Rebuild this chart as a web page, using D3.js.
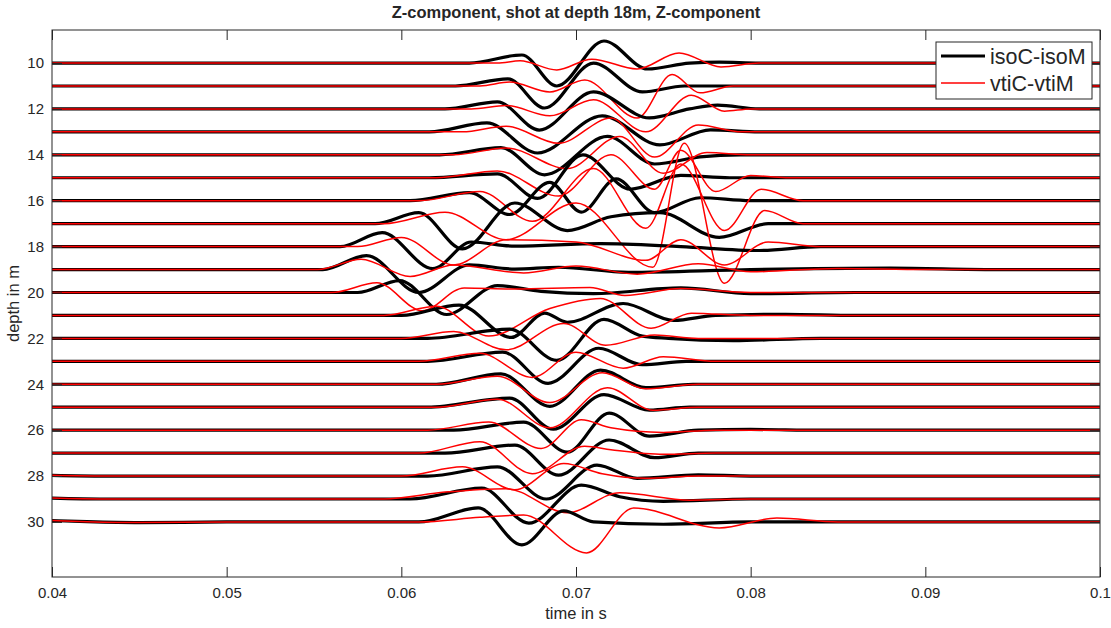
<!DOCTYPE html>
<html>
<head>
<meta charset="utf-8">
<script src="https://cdn.jsdelivr.net/npm/d3@7"></script>
<style>
  body { margin: 0; background: #fff; }
  text { font-family: "Liberation Sans", Arial, sans-serif; fill: #262626; }
</style>
</head>
<body>
<svg id="chart" width="1111" height="628"></svg>
<script>
// depths of the receivers (m) and axis ticks
var depths = [10, 11, 12, 13, 14, 15, 16, 17, 18, 19, 20, 21, 22, 23, 24, 25, 26, 27, 28, 29, 30];
var timeTicks = [0.04, 0.05, 0.06, 0.07, 0.08, 0.09, 0.1];
var depthTicks = [10, 12, 14, 16, 18, 20, 22, 24, 26, 28, 30];
var seriesNames = ["isoC-isoM", "vtiC-vtiM"];

// trace keypoints: [time in ms, amplitude in m (up = positive)]
var iso10 = [[63.9,0],[66.9,.35],[68.9,-1.0],[71.6,.96],[74.1,-.26],[76.5,0],[78.2,.04],[80.5,0]];
var iso11 = [[63.1,0],[66.1,.31],[68.2,-.96],[71.0,1.0],[73.8,-.26],[76.2,0]];
var iso12 = [[62.5,0],[65.5,.31],[67.9,-.92],[71.0,.74],[74.2,-.39],[76.5,0],[78.1,.17],[80.5,0]];
var iso13 = [[61.6,0],[64.9,.39],[67.8,-.92],[71.5,.7],[74.8,-.57],[77.7,.09],[80.5,0]];
var iso14 = [[62.2,0],[65.7,.31],[68.2,-.87],[71.8,.8],[74.5,-.4],[77.1,-.09],[79.4,0]];
var iso15 = [[61.6,0],[65.5,.17],[67.8,-.9],[70.4,1.0],[73.1,-.5],[76.0,.1],[78.8,0]];
var iso16 = [[60.5,0],[63.9,.35],[66.2,-.6],[68.5,.8],[70.3,-.5],[72.3,.95],[74.5,-.52],[77.1,.13],[80,0]];
var iso17 = [[58.5,0],[61.0,.48],[63.5,-1.1],[66.5,.9],[69.5,-.3],[72,.3],[74.8,.48],[78.2,-.6],[81,0]];
var iso18 = [[56.5,0],[58.9,.61],[61.8,-.96],[64.0,.2],[66.5,.02],[71.4,.13],[76,0],[80.5,-.17],[84,0]];
var iso19 = [[55.5,0],[58.0,.61],[61.0,-1.0],[63.9,.2],[66.5,.02],[69,.1],[73,-.12],[80,0],[88,.06],[94,0]];
var iso20 = [[57.5,0],[59.9,.52],[62.6,-.96],[65.5,.3],[68,.05],[71,-.05],[76,.2],[80,-.05],[86,0]];
var iso21 = [[60,0],[63.3,.45],[66.3,-.96],[68.2,.1],[69.5,-.3],[72.7,.52],[75.6,-.22],[78,0],[82,.05],[86,0]];
var iso22 = [[61.5,0],[66.2,.4],[68.9,-.96],[71.6,.83],[73.8,.1],[75.3,0],[79,-.1],[84,0]];
var iso23 = [[61.5,0],[65.8,.4],[68.4,-.96],[71.3,.57],[73.8,-.15],[76.3,0]];
var iso24 = [[62,0],[65.7,.45],[68.5,-.96],[71.4,.62],[74,-.15],[76.7,0]];
var iso25 = [[61.5,0],[66.2,.4],[68.7,-.96],[71.6,.55],[74.2,-.13],[76.5,0]];
var iso26 = [[63,0],[67.0,.35],[69.5,-.96],[71.9,.74],[74.2,-.26],[77,0],[80,.03],[84,0]];
var iso27 = [[62.5,0],[66.5,.35],[69.0,-.96],[71.9,.57],[74.5,-.2],[77,0]];
var iso28 = [[40,.03],[43,0],[61.5,0],[65.5,.4],[68.3,-1.0],[71.2,.48],[73.5,-.1],[77,.05],[80,0]];
var iso29 = [[40,.04],[43,0],[60.5,0],[64.6,.48],[67.3,-1.05],[70.3,.6],[72.5,.1],[75,-.1],[80,0]];
var iso30 = [[40,.06],[42,.01],[45,-.03],[50,0],[61,0],[64.4,.61],[66.9,-1.0],[69.3,.48],[71,0],[75,-.1],[80,0]];

var vti10 = [[65.5,0],[66.8,.1],[68.9,-.3],[70.9,.17],[73.5,-.26],[75.9,.44],[78.3,-.17],[80.5,0]];
var vti11 = [[64.5,0],[66.2,.17],[68.5,-.26],[70.5,.26],[73.5,-1.4],[75.5,.5],[77.1,-.3],[79,0]];
var vti12 = [[64,0],[66,.15],[68.5,-.3],[71,.4],[74,-1.0],[76.6,.6],[78.5,-.1],[80,0]];
var vti13 = [[63.5,0],[66,.25],[69,-.5],[72,.6],[74.5,-1.1],[77,.3],[79.5,0]];
var vti14 = [[63,0],[66,.3],[69.5,-.6],[72.5,.8],[75,-.8],[77.5,.1],[80,0]];
var vti15 = [[62,0],[65.5,.3],[69,-.8],[72,1.0],[74.5,-.5],[76,1.2],[78,-.6],[80,.1],[82,0]];
var vti16 = [[61,0],[64.5,.4],[67.5,-.9],[71,1.4],[74,-1.2],[76,1.6],[78.5,-1.3],[80.6,.5],[83,0]];
var vti17 = [[59,0],[62.5,.5],[66,-.7],[70,.9],[74.4,-1.9],[76.2,3.5],[78.5,-2.6],[80.8,.57],[83,0]];
var vti18 = [[57.5,0],[60,.4],[63,-.8],[66,.3],[70,.2],[74,-.6],[76,.3],[78.5,-.8],[81,.2],[84,0]];
var vti19 = [[55.2,0],[57.7,.45],[60.5,-.3],[63,.2],[67,-.15],[70,.15],[73.5,-.2],[77,.25],[80,-.1],[85,.05],[90,0]];
var vti20 = [[56,0],[58.6,.42],[61.2,-.8],[63.6,.2],[66.5,.15],[70.8,.22],[72.8,-.13],[76,.17],[80,0]];
var vti21 = [[59,0],[62,.4],[65,-.9],[68.5,.3],[71.4,.74],[74.3,-.56],[76.6,.1],[80,0]];
var vti22 = [[60,0],[63,.3],[66,-.5],[69.3,.65],[71.7,-.3],[74.5,.15],[77,0]];
var vti23 = [[61,0],[64.5,.35],[67.5,-.7],[70,.4],[72.7,-.3],[75,.2],[78,0]];
var vti24 = [[62,0],[65.5,.35],[68.5,-.8],[71.5,.5],[74,-.2],[77,0]];
var vti25 = [[62,0],[65.5,.35],[68.5,-.9],[71.8,.85],[74.4,-.13],[77,0]];
var vti26 = [[61.5,0],[65,.35],[68,-.8],[70.3,.45],[72,.1],[75,-.1],[78,0]];
var vti27 = [[61,0],[64.5,.5],[67.5,-.9],[70.5,.3],[72,.15],[75,-.05],[78,0]];
var vti28 = [[40,.03],[43,0],[60,0],[63.5,.4],[66.5,-.6],[69.3,.55],[71.5,.1],[74,-.1],[77,0]];
var vti29 = [[40,.04],[43,0],[59,0],[62.5,.3],[66,.45],[69.5,-.6],[72.5,.27],[76.5,-.05],[80,0]];
var vti30 = [[40,.06],[42,.01],[45,-.03],[50,0],[61,0],[64.5,.2],[67,.3],[70.6,-1.35],[73.3,.61],[78.2,-.26],[81.5,.17],[85,0]];

var isoTraces = [iso10, iso11, iso12, iso13, iso14, iso15, iso16, iso17, iso18, iso19, iso20,
                 iso21, iso22, iso23, iso24, iso25, iso26, iso27, iso28, iso29, iso30];
var vtiTraces = [vti10, vti11, vti12, vti13, vti14, vti15, vti16, vti17, vti18, vti19, vti20,
                 vti21, vti22, vti23, vti24, vti25, vti26, vti27, vti28, vti29, vti30];

var margin = {left: 52, right: 11, top: 30, bottom: 51},
    width = 1111,
    height = 628;

var svg = d3.select("#chart");

var x = d3.scaleLinear().domain([0.04, 0.1]).range([margin.left, width - margin.right]);
var y = d3.scaleLinear().domain([8.56, 32.4]).range([margin.top, height - margin.bottom]);

svg.append("defs").append("clipPath").attr("id", "plotclip")
  .append("rect")
    .attr("x", margin.left).attr("y", margin.top)
    .attr("width", width - margin.left - margin.right)
    .attr("height", height - margin.top - margin.bottom);

// pad each trace with flat ends so it runs across the whole window
function fullTrace(pts) {
  var out = pts.slice();
  if (out[0][0] > 40) out.unshift([40, 0]);
  if (out[out.length - 1][0] < 100) out.push([100, 0]);
  return out;
}

var traces = svg.append("g").attr("clip-path", "url(#plotclip)");

depths.forEach(function(d, i) {
  var line = d3.line()
      .curve(d3.curveMonotoneX)
      .x(function(p) { return x(p[0] / 1000); })
      .y(function(p) { return y(d - p[1]); });

  traces.append("path")
      .attr("d", line(fullTrace(isoTraces[i])))
      .attr("fill", "none")
      .attr("stroke", "#000")
      .attr("stroke-width", 3.2)
      .attr("stroke-linejoin", "round");

  traces.append("path")
      .attr("d", line(fullTrace(vtiTraces[i])))
      .attr("fill", "none")
      .attr("stroke", "#ff0000")
      .attr("stroke-width", 1.5)
      .attr("stroke-linejoin", "round");
});

// axes, MATLAB style: ticks inside on all four sides
var fmt = function(d) { return String(+d.toFixed(2)); };

svg.append("g")
    .attr("transform", "translate(0," + (height - margin.bottom) + ")")
    .call(d3.axisBottom(x).tickValues(timeTicks).tickFormat(fmt).tickSizeInner(-10).tickSizeOuter(0).tickPadding(10));
svg.append("g")
    .attr("transform", "translate(0," + margin.top + ")")
    .call(d3.axisTop(x).tickValues(timeTicks).tickFormat("").tickSizeInner(-10).tickSizeOuter(0));
svg.append("g")
    .attr("transform", "translate(" + margin.left + ",0)")
    .call(d3.axisLeft(y).tickValues(depthTicks).tickSizeInner(-10).tickSizeOuter(0).tickPadding(8));
svg.append("g")
    .attr("transform", "translate(" + (width - margin.right) + ",0)")
    .call(d3.axisRight(y).tickValues(depthTicks).tickFormat("").tickSizeInner(-10).tickSizeOuter(0));

svg.selectAll(".domain").remove();
svg.selectAll(".tick line").attr("stroke", "#262626");
svg.selectAll(".tick text").style("font-size", "15px").attr("fill", "#262626");

svg.append("rect")
    .attr("x", margin.left).attr("y", margin.top)
    .attr("width", width - margin.left - margin.right)
    .attr("height", height - margin.top - margin.bottom)
    .attr("fill", "none")
    .attr("stroke", "#262626")
    .attr("stroke-width", 1);

// labels and title
svg.append("text")
    .attr("x", (margin.left + width - margin.right) / 2)
    .attr("y", 619)
    .attr("text-anchor", "middle")
    .style("font-size", "16.5px")
    .text("time in s");

svg.append("text")
    .attr("transform", "translate(19," + ((margin.top + height - margin.bottom) / 2) + ")rotate(-90)")
    .attr("text-anchor", "middle")
    .style("font-size", "16.5px")
    .text("depth in m");

svg.append("text")
    .attr("x", (margin.left + width - margin.right) / 2)
    .attr("y", 18)
    .attr("text-anchor", "middle")
    .style("font-size", "16.5px")
    .style("font-weight", "bold")
    .attr("fill", "#000")
    .text("Z-component, shot at depth 18m, Z-component");

// legend
var legend = svg.append("g").attr("transform", "translate(936,42)");
legend.append("rect")
    .attr("width", 156).attr("height", 57)
    .attr("fill", "#fff").attr("stroke", "#262626").attr("stroke-width", 1);
var legendColors = ["#000", "#ff0000"], legendWidths = [3.2, 1.5];
seriesNames.forEach(function(name, i) {
  legend.append("line")
      .attr("x1", 5).attr("x2", 49)
      .attr("y1", 14 + i * 27).attr("y2", 14 + i * 27)
      .attr("stroke", legendColors[i]).attr("stroke-width", legendWidths[i]);
  legend.append("text")
      .attr("x", 54).attr("y", 14 + i * 27)
      .attr("dy", "0.35em")
      .style("font-size", "21.5px")
      .attr("fill", "#000")
      .text(name);
});
</script>
</body>
</html>
